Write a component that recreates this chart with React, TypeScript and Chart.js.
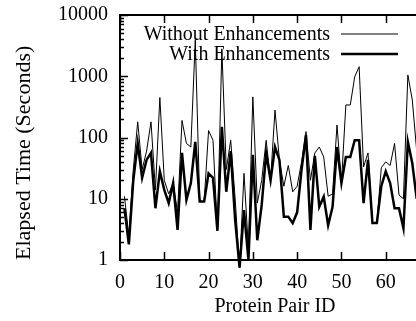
import React, { useEffect, useRef } from "react";
import { Chart, registerables } from "chart.js";

Chart.register(...registerables);

const proteinIds = [
  1, 2, 3, 4, 5, 6, 7, 8, 9, 10, 11, 12, 13, 14, 15, 16, 17, 18, 19, 20,
  21, 22, 23, 24, 25, 26, 27, 28, 29, 30, 31, 32, 33, 34, 35, 36, 37, 38, 39, 40,
  41, 42, 43, 44, 45, 46, 47, 48, 49, 50, 51, 52, 53, 54, 55, 56, 57, 58, 59, 60,
  61, 62, 63, 64, 65, 66, 67,
];

const withoutEnhancements = [
  11, 2.5, 30, 180, 30, 60, 180, 14, 450, 20,
  12, 18, 6, 190, 80, 70, 3900, 9, 9, 130,
  90, 3, 2800, 30, 90, 10, 0.75, 26, 1.5, 460,
  8.5, 20, 90, 20, 280, 43, 16, 35, 13, 16,
  40, 125, 20, 56, 70, 48, 11, 12, 160, 18,
  340, 340, 980, 1430, 33, 56, 4, 4, 32, 40,
  35, 80, 11.5, 10, 1050, 410, 60,
];

const withEnhancements = [
  7, 1.8, 20, 80, 22, 43, 56, 7, 28, 14,
  8.5, 18, 3.1, 56, 9.6, 18, 85, 9, 9, 26,
  22, 3, 150, 13, 60, 4.5, 0.75, 6.5, 1, 52,
  2.1, 8, 55, 20, 70, 43, 5.1, 5.1, 4, 6,
  30, 110, 3.1, 50, 7.4, 10.8, 3.7, 7.4, 70, 18,
  48, 48, 90, 90, 8.5, 43, 4, 4, 16, 28,
  18, 7, 7, 3.3, 85, 38, 10,
];

const seriesLabels = ["Without Enhancements", "With Enhancements"];
const yTickValues = [1, 10, 100, 1000, 10000];
const xTickValues = [0, 10, 20, 30, 40, 50, 60, 70];
const yTitle = "Elapsed Time (Seconds)";
const xTitle = "Protein Pair ID";

const FONT_FAMILY = "'Liberation Serif', 'Times New Roman', serif";

const framePlugin = {
  id: "gnuplotFrame",
  afterDraw(chart: any) {
    const { ctx, chartArea, scales } = chart;
    const { left, right, top, bottom } = chartArea;
    const xs = scales.x;
    const ys = scales.y;
    ctx.save();
    ctx.strokeStyle = "#000";
    ctx.lineWidth = 2;
    ctx.beginPath();
    ctx.moveTo(right, top);
    ctx.lineTo(left, top);
    ctx.lineTo(left, bottom);
    ctx.lineTo(right, bottom);
    ctx.lineTo(right, top);
    ctx.stroke();

    ctx.lineWidth = 1.5;
    ctx.beginPath();
    for (let d = 0; d < yTickValues.length; d++) {
      const base = yTickValues[d];
      const count = d === yTickValues.length - 1 ? 1 : 9;
      for (let m = 1; m <= count; m++) {
        const v = base * m;
        const py = Math.round(ys.getPixelForValue(v)) + 0.5;
        const len = m === 1 ? 8 : 4;
        ctx.moveTo(left, py);
        ctx.lineTo(left + len, py);
        ctx.moveTo(right, py);
        ctx.lineTo(right - len, py);
      }
    }
    for (const v of xTickValues) {
      const px = Math.round(xs.getPixelForValue(v)) + 0.5;
      ctx.moveTo(px, bottom);
      ctx.lineTo(px, bottom - 8);
      ctx.moveTo(px, top);
      ctx.lineTo(px, top + 8);
    }
    ctx.stroke();
    ctx.restore();
  },
};

const legendPlugin = {
  id: "gnuplotKey",
  afterDraw(chart: any) {
    const { ctx } = chart;
    const textRight = 330;
    const lineStart = 341;
    const lineEnd = 398;
    const rows = [34, 54];
    ctx.save();
    ctx.font = `20px ${FONT_FAMILY}`;
    ctx.fillStyle = "#000";
    ctx.textAlign = "right";
    ctx.textBaseline = "middle";
    chart.data.datasets.forEach((ds: any, i: number) => {
      const y = rows[i];
      ctx.fillText(ds.label, textRight, y + 1);
      ctx.strokeStyle = ds.borderColor;
      ctx.lineWidth = ds.borderWidth;
      ctx.beginPath();
      ctx.moveTo(lineStart, y);
      ctx.lineTo(lineEnd, y);
      ctx.stroke();
    });
    ctx.restore();
  },
};

export default function App() {
  const canvasRef = useRef<HTMLCanvasElement | null>(null);

  useEffect(() => {
    const canvas = canvasRef.current;
    if (!canvas) return;
    const chart = new Chart(canvas, {
      type: "line",
      data: {
        datasets: [
          {
            label: seriesLabels[0],
            data: proteinIds.map((id, i) => ({ x: id, y: withoutEnhancements[i] })),
            borderColor: "#000",
            backgroundColor: "#000",
            borderWidth: 1,
            pointRadius: 0,
            tension: 0,
            clip: false as any,
          },
          {
            label: seriesLabels[1],
            data: proteinIds.map((id, i) => ({ x: id, y: withEnhancements[i] })),
            borderColor: "#000",
            backgroundColor: "#000",
            borderWidth: 2.5,
            pointRadius: 0,
            tension: 0,
            clip: false as any,
          },
        ],
      },
      options: {
        responsive: false,
        animation: false,
        devicePixelRatio: 1,
        layout: { padding: { top: 15, right: 10, left: 0, bottom: 0 } },
        plugins: {
          legend: { display: false },
          tooltip: { enabled: false },
        },
        scales: {
          x: {
            type: "linear",
            min: 0,
            max: 70,
            afterBuildTicks: (s: any) => {
              s.ticks = xTickValues.map((v) => ({ value: v }));
            },
            afterFit: (s: any) => {
              s.height = 61;
              s.paddingLeft = 0;
              s.paddingRight = 0;
            },
            grid: { display: false, drawTicks: false },
            border: { display: false },
            ticks: {
              color: "#000",
              font: { family: FONT_FAMILY, size: 20 },
              padding: 11,
              maxRotation: 0,
              autoSkip: false,
            },
            title: {
              display: true,
              text: xTitle,
              color: "#000",
              font: { family: FONT_FAMILY, size: 20 },
              padding: { top: 0, bottom: 2 },
            },
          },
          y: {
            type: "logarithmic",
            min: 1,
            max: 10000,
            afterBuildTicks: (s: any) => {
              s.ticks = yTickValues.map((v) => ({ value: v }));
            },
            afterFit: (s: any) => {
              s.width = 120;
              s.paddingTop = 0;
              s.paddingBottom = 0;
            },
            grid: { display: false, drawTicks: false },
            border: { display: false },
            ticks: {
              color: "#000",
              font: { family: FONT_FAMILY, size: 20 },
              padding: 12,
              autoSkip: false,
              callback: (v: any) => String(v),
            },
            title: {
              display: true,
              text: yTitle,
              align: "start",
              color: "#000",
              font: { family: FONT_FAMILY, size: 22 },
              padding: { top: 11, bottom: 0 },
            },
          },
        },
      },
      plugins: [framePlugin, legendPlugin],
    });
    return () => chart.destroy();
  }, []);

  return (
    <div
      style={{
        position: "fixed",
        left: 0,
        top: 0,
        width: 416,
        height: 321,
        overflow: "hidden",
        background: "#fff",
      }}
    >
      <canvas
        ref={canvasRef}
        width={440}
        height={321}
        style={{ display: "block", width: 440, height: 321 }}
      />
    </div>
  );
}
